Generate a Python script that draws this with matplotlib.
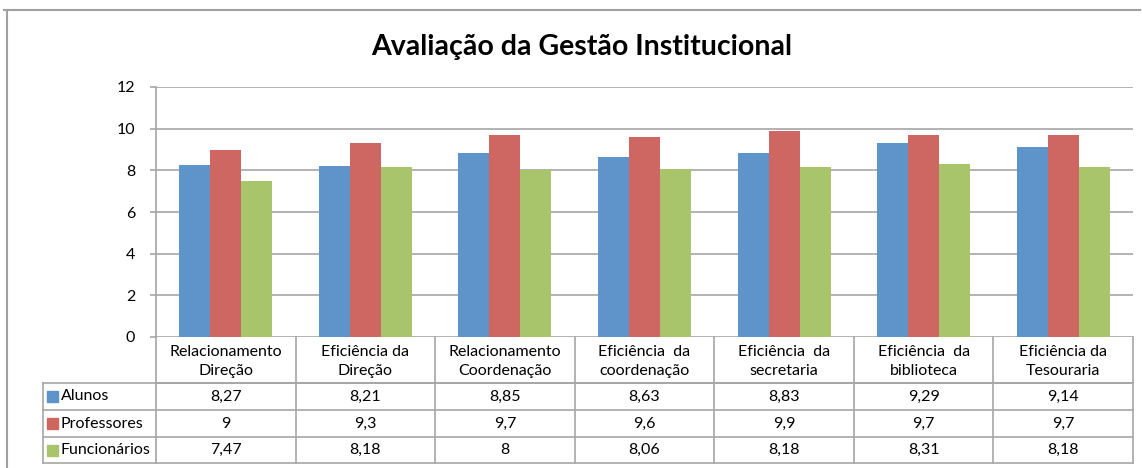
import matplotlib.pyplot as plt
import matplotlib.transforms as mtransforms
import numpy as np

plt.rcParams['font.family'] = ['Lato', 'DejaVu Sans']

# Data
categories = ['Relacionamento\nDireção', 'Eficiência da\nDireção', 'Relacionamento\nCoordenação',
              'Eficiência  da\ncoordenação', 'Eficiência  da\nsecretaria', 'Eficiência  da\nbiblioteca',
              'Eficiência da\nTesouraria']
series_names = ['Alunos', 'Professores', 'Funcionários']
alunos = [8.27, 8.21, 8.85, 8.63, 8.83, 9.29, 9.14]
professores = [9, 9.3, 9.7, 9.6, 9.9, 9.7, 9.7]
funcionarios = [7.47, 8.18, 8, 8.06, 8.18, 8.31, 8.18]
colors = ['#5E94CA', '#CE6661', '#A9C56B']
yticks = [0, 2, 4, 6, 8, 10, 12]

W, H = 1142, 468
fig = plt.figure(figsize=(W / 100, H / 100), dpi=100)
fig.patch.set_facecolor('white')

# plot area in pixel coords
x0, x1, y_top, y_bot = 156, 1133, 87, 337
ax = fig.add_axes([x0 / W, 1 - y_bot / H, (x1 - x0) / W, (y_bot - y_top) / H])

n = len(categories)
x = np.arange(n)
bw = 0.222
all_series = [alunos, professores, funcionarios]
for i, (vals, c) in enumerate(zip(all_series, colors)):
    ax.bar(x + (i - 1) * bw, vals, width=bw, color=c, zorder=3, linewidth=0)

ax.set_xlim(-0.5, n - 0.5)
ax.set_ylim(0, 12)
ax.set_yticks(yticks)
ax.set_yticklabels([str(t) for t in yticks], fontsize=11.5, color='black')
ax.yaxis.grid(True, color='#A6A6A6', linewidth=1.2, zorder=0)
ax.set_xticks([])
for s in ['top', 'right', 'bottom']:
    ax.spines[s].set_visible(False)
ax.spines['left'].set_color('#A6A6A6')
ax.spines['left'].set_linewidth(1.2)
ax.tick_params(axis='y', length=4, color='#A6A6A6', width=1.2, pad=11)

# data table below the plot
trans = mtransforms.blended_transform_factory(ax.transData, fig.transFigure)
def fy(py):
    return 1 - py / H

row_lines = [337, 383, 410, 437, 463]
px_per_unit = (x1 - x0) / n
label_left = -0.5 - (x0 - 43) / px_per_unit
line_kw = dict(color='#A6A6A6', linewidth=1.2, transform=trans, clip_on=False)

ax.plot([-0.5, n - 0.5], [fy(row_lines[1])] * 2, **line_kw)
for k in range(n + 1):
    ax.plot([k - 0.5, k - 0.5], [fy(row_lines[0]), fy(row_lines[-1])], **line_kw)
for py in row_lines[1:]:
    ax.plot([label_left, n - 0.5], [fy(py)] * 2, **line_kw)
ax.plot([label_left, label_left], [fy(row_lines[1]), fy(row_lines[-1])], **line_kw)

for k, cat in enumerate(categories):
    ax.text(k, fy((row_lines[0] + row_lines[1]) / 2 + 1.5), cat, transform=trans,
            ha='center', va='center', fontsize=11.5, linespacing=1.38)

for r, (name, vals, c) in enumerate(zip(series_names, all_series, colors)):
    yc = fy((row_lines[r + 1] + row_lines[r + 2]) / 2)
    ax.add_patch(plt.Rectangle((label_left + 4 / px_per_unit, yc - 5.5 / H), 11 / px_per_unit, 11 / H,
                               transform=trans, color=c, clip_on=False))
    ax.text(label_left + 18 / px_per_unit, yc, name, transform=trans, ha='left', va='center', fontsize=11.5)
    for k, v in enumerate(vals):
        ax.text(k, yc, f'{v:g}'.replace('.', ','), transform=trans, ha='center', va='center', fontsize=11.5)

# title
fig.text(0.509, 1 - 47 / H, 'Avaliação da Gestão Institucional', ha='center', va='center',
         fontsize=20.5, fontweight='bold')

# outer chart border (top and left)
fig.add_artist(plt.Line2D([4 / W, 1140 / W], [fy(10), fy(10)], color='#A0A0A0', linewidth=1.5))
fig.add_artist(plt.Line2D([7 / W, 7 / W], [fy(10), 0], color='#A0A0A0', linewidth=1.5))

fig.savefig('out.png', dpi=100)
